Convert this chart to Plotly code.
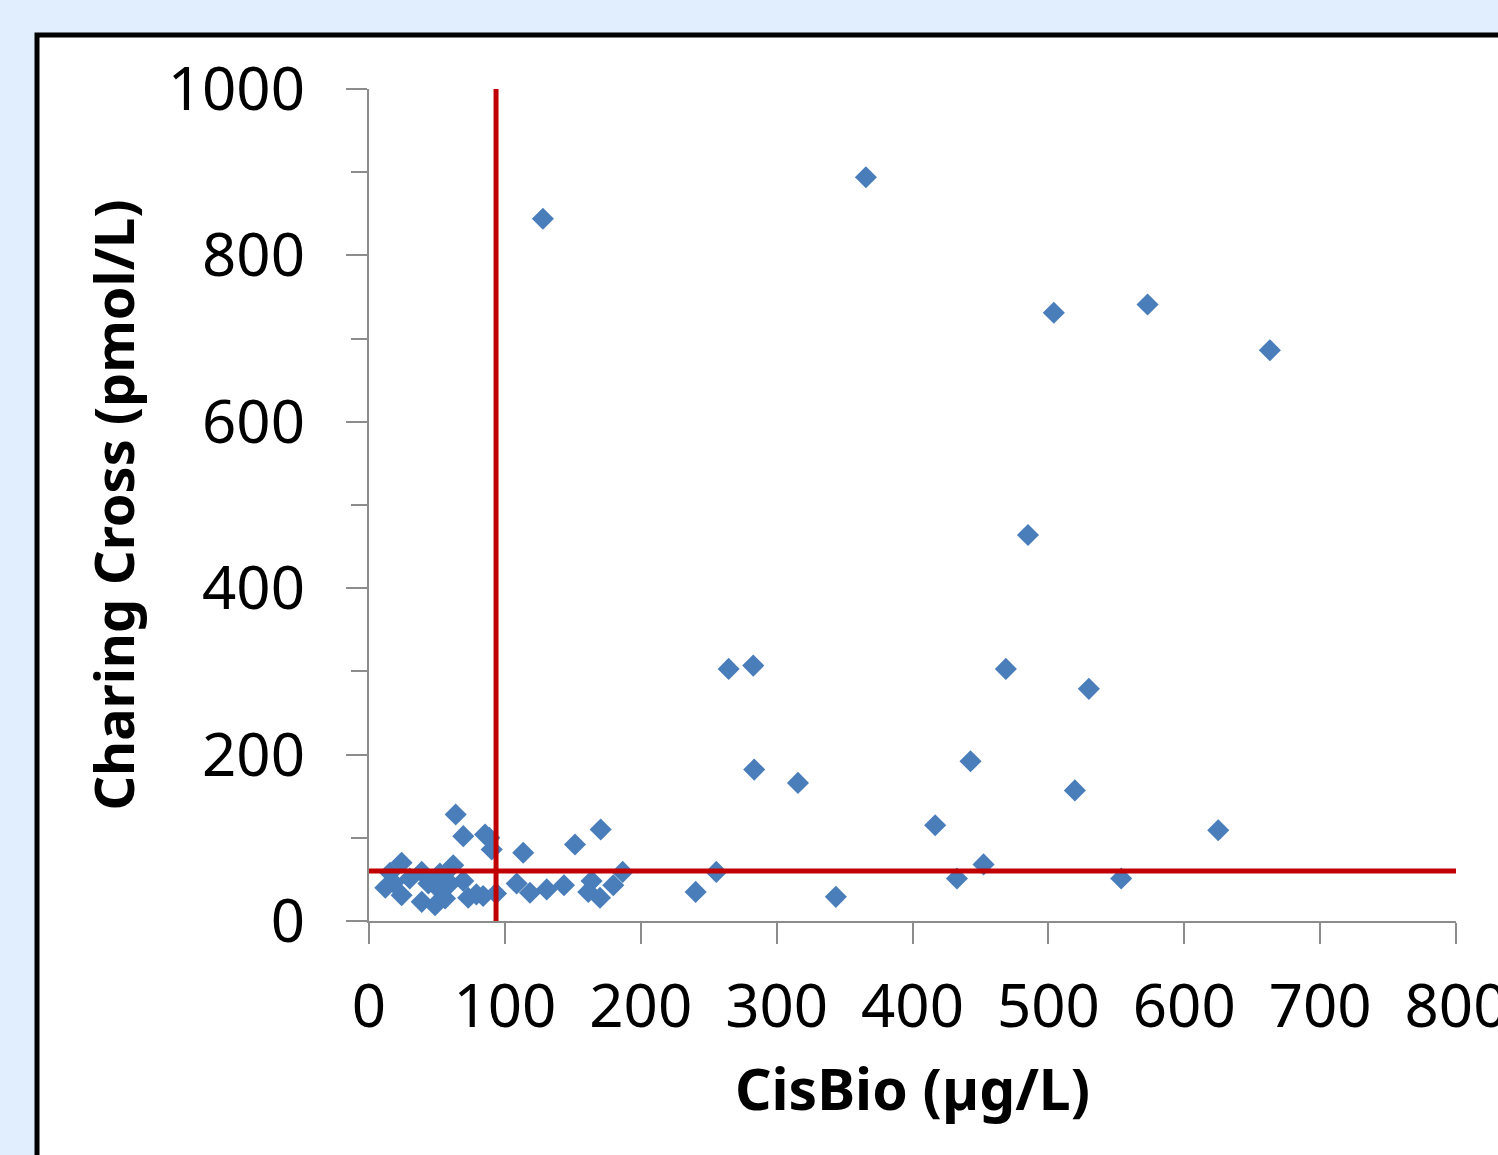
import plotly.graph_objects as go

# Data
cisbio = [12, 18, 15.5, 24, 24, 30, 38.8, 43.7, 38.8, 48.6, 52.2, 52.2, 56, 62, 59.6, 69.4, 73, 79, 84, 93.5,
          63.8, 69.4, 85.4, 88.5, 90.3,
          108.7, 113.5, 118.5, 128, 130.8, 143.5, 151.6, 161.4, 163.8, 170, 170.5, 179.8, 186.7,
          240.4, 255.6, 264.7, 282.8, 283.5, 315.7, 343.6, 365.7, 416.7, 432.7, 442.7, 452.3,
          468.7, 485, 504, 519.5, 529.8, 553.6, 573, 625, 663]
charing = [40, 46, 58, 70, 31, 51, 59, 45, 23, 19, 57, 37, 27, 67, 45, 48, 28, 32, 30, 33,
           128, 102, 104, 100, 86,
           45, 82, 34, 844, 38, 43, 92, 35, 48, 28, 110, 43, 59,
           35, 59, 303, 307, 182, 166, 29, 894, 115, 51, 192, 68,
           303, 464, 731, 157, 279, 51, 741, 109, 686]

cutoff_x = 93.5   # CisBio cut-off (µg/L)
cutoff_y = 60     # Charing Cross cut-off (pmol/L)
x_range = [0, 800]
y_range = [0, 1000]
x_ticks = [0, 100, 200, 300, 400, 500, 600, 700, 800]
y_ticks = [0, 200, 400, 600, 800, 1000]

W, H = 1498, 1155
L, R, T, B = 369, 42, 89, 234
pw, ph = W - L - R, H - T - B

def px2paper_x(px):
    return (px - L) / pw

def py2paper_y(py):
    return (H - B - py) / ph

fig = go.Figure()

fig.add_trace(go.Scatter(
    x=cisbio, y=charing, mode="markers",
    marker=dict(symbol="diamond", size=17, color="#4A7EBB", line=dict(width=0)),
    showlegend=False, cliponaxis=False,
))

# cut-off lines
fig.add_trace(go.Scatter(x=[cutoff_x, cutoff_x], y=[y_range[0], y_range[1]], mode="lines",
                         line=dict(color="#C00000", width=5), showlegend=False))
fig.add_trace(go.Scatter(x=[x_range[0], x_range[1]], y=[cutoff_y, cutoff_y], mode="lines",
                         line=dict(color="#C00000", width=5), showlegend=False))

# white panel with black frame
fig.add_shape(type="rect", xref="paper", yref="paper", layer="below",
              x0=px2paper_x(37), x1=px2paper_x(1520), y0=py2paper_y(1180), y1=py2paper_y(35),
              fillcolor="white", line=dict(color="black", width=5))

font_fam = "Noto Sans, Open Sans, DejaVu Sans, sans-serif"

fig.update_layout(
    width=W, height=H,
    margin=dict(l=L, r=R, t=T, b=B, autoexpand=False),
    paper_bgcolor="#E0EEFE",
    plot_bgcolor="white",
    font=dict(family=font_fam, color="black"),
    xaxis=dict(
        range=x_range, tickvals=x_ticks, ticktext=[str(v) for v in x_ticks],
        showgrid=False, zeroline=False, showline=True, linecolor="#8C8C8C", linewidth=2,
        ticks="outside", ticklen=21, tickwidth=2, tickcolor="#8C8C8C",
        tickfont=dict(size=60, family=font_fam), ticklabelstandoff=11,
        ticklabeloverflow="allow",
        title=dict(text="<b>CisBio (µg/L)</b>", font=dict(size=57, family=font_fam), standoff=26),
        automargin=False,
    ),
    yaxis=dict(
        range=y_range, tickvals=y_ticks, ticktext=[str(v) for v in y_ticks],
        showgrid=False, zeroline=False, showline=True, linecolor="#8C8C8C", linewidth=2,
        ticks="outside", ticklen=21, tickwidth=2, tickcolor="#8C8C8C",
        minor=dict(dtick=100, ticks="outside", ticklen=16, tickwidth=2, tickcolor="#8C8C8C", showgrid=False),
        tickfont=dict(size=60, family=font_fam), ticklabelstandoff=29,
        ticklabeloverflow="allow",
        title=dict(text="<b>Charing Cross (pmol/L)</b>", font=dict(size=54, family=font_fam), standoff=16),
        automargin=False,
    ),
)

fig.write_html("out.html", config={"displayModeBar": False},
               post_script="document.body.style.margin='0';document.body.style.background='#E0EEFE';")
